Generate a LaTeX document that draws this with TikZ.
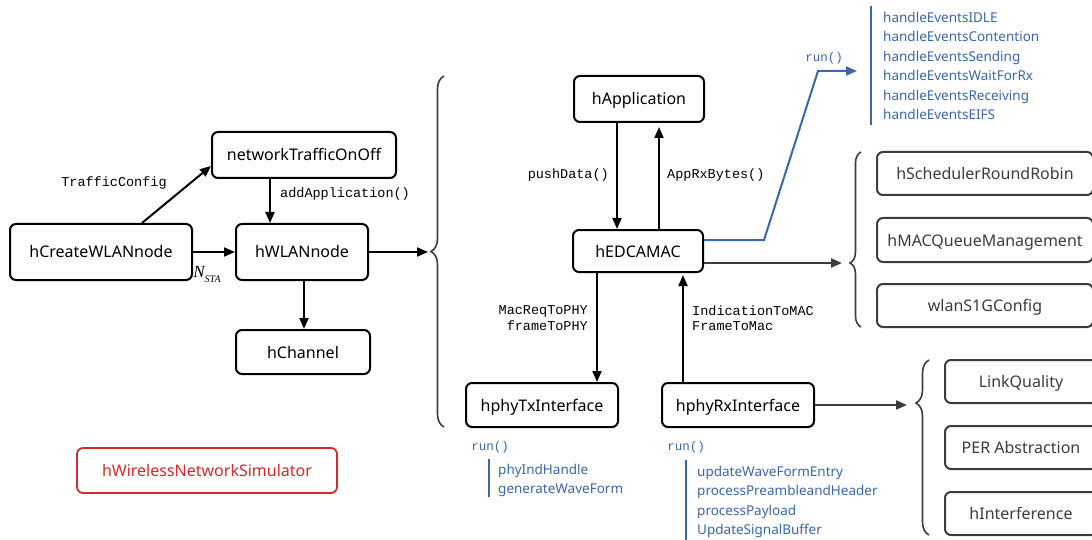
\documentclass[tikz,border=0pt]{standalone}
\usepackage{fontspec}
\setmainfont{Noto Sans}
\newfontfamily\monof{Liberation Mono}
\newfontfamily\serf{Liberation Serif}
\usetikzlibrary{arrows.meta,decorations.pathreplacing}
\definecolor{myblue}{HTML}{3A67A5}
\definecolor{myred}{HTML}{D42A2A}
\definecolor{dgray}{HTML}{3C3C3C}
\tikzset{
  box/.style={draw, line width=2pt, rounded corners=6pt, font=\fontsize{16}{19}\selectfont, inner sep=0pt, text height=13pt, text depth=1pt},
  gbox/.style={box, draw=dgray, text=dgray},
  rbox/.style={box, draw=myred, text=myred, line width=1.8pt},
  arr/.style={line width=2pt, -{Triangle[length=11pt,width=9pt]}},
  garr/.style={arr, draw=dgray, fill=dgray},
  lbl/.style={font=\monof\fontsize{13.5}{15.5}\selectfont, inner sep=0pt},
  blbl/.style={font=\monof\fontsize{12.5}{14}\selectfont, text=myblue, inner sep=0pt},
  blist/.style={font=\fontsize{13.5}{19.5}\selectfont, text=myblue, align=left, anchor=north west, inner sep=0pt},
  bline/.style={draw=myblue, line width=2pt},
  brc/.style={draw=dgray, line width=1.6pt, decorate},
}
\begin{document}
\begin{tikzpicture}[x=1pt,y=-1pt]
\useasboundingbox (0,0) rectangle (1092,540);
\clip (0,0) rectangle (1092,540);

% left group
\node[box, minimum width=182pt, minimum height=56pt] (create) at (101,252) {hCreateWLANnode};
\node[box, minimum width=184pt, minimum height=46pt] (traffic) at (304,155) {networkTrafficOnOff};
\node[box, minimum width=132pt, minimum height=56pt] (wlan) at (302,252) {hWLANnode};
\node[box, minimum width=134pt, minimum height=44pt] (chan) at (303,352) {hChannel};
\node[rbox, minimum width=260pt, minimum height=45pt] (sim) at (207,470.5) {hWirelessNetworkSimulator};

\draw[arr] ([xshift=41pt]create.north) -- ([yshift=-11pt]traffic.west);
\node[lbl] (ltc) at (114,183) {TrafficConfig};
\draw[arr] (create.east) -- (wlan.west);
\node[inner sep=0pt, font=\serf\itshape\fontsize{17}{18}\selectfont] (lnsta) at (207,274) {N\raisebox{-5pt}{\fontsize{10}{11}\selectfont STA}};
\draw[arr] ([xshift=-34pt]traffic.south) -- ([xshift=-32pt]wlan.north);
\node[lbl, anchor=west] (lapp) at (280,194) {addApplication()};
\draw[arr] ([xshift=2pt]wlan.south) -- ([xshift=1pt]chan.north);

% big brace
\draw[brc, decoration={brace, amplitude=13pt}] (444,427) -- (444,76);
\coordinate (b1tip) at (428,252);
\draw[arr] (wlan.east) -- (b1tip);

% MAC group
\node[box, minimum width=130pt, minimum height=46pt] (app) at (639,99) {hApplication};
\node[box, minimum width=130pt, minimum height=42pt] (mac) at (638,251) {hEDCAMAC};
\node[box, minimum width=152pt, minimum height=44pt] (tx) at (542,405) {hphyTxInterface};
\node[box, minimum width=152pt, minimum height=44pt] (rx) at (738,405) {hphyRxInterface};

\draw[arr] ([xshift=-22pt]app.south) -- ([xshift=-21pt]mac.north);
\node[lbl, anchor=east] (lpush) at (609,175) {pushData()};
\draw[arr] ([xshift=21pt]mac.north) -- ([xshift=20pt,yshift=-4pt]app.south);
\node[lbl, anchor=west] (lrx) at (667,175) {AppRxBytes()};
\draw[arr] ([xshift=-41pt]mac.south) -- ([xshift=55pt]tx.north);
\node[lbl, anchor=east, align=right] (lmreq) at (588,318) {MacReqToPHY\\frameToPHY};
\draw[arr] ([xshift=-55pt]rx.north) -- ([xshift=45pt,yshift=-2pt]mac.south);
\node[lbl, anchor=west, align=left] (lind) at (692,318) {IndicationToMAC\\FrameToMac};

% blue run to handleEvents
\coordinate (bb1) at (764,240);
\coordinate (bb2) at (818,71);
\coordinate (runend) at (857,71);
\draw[myblue, line width=2pt, -{Triangle[length=11pt,width=9pt]}] ([yshift=11pt]mac.east) -- (bb1) -- (bb2) -- (runend);
\node[blbl] (lrun1) at (824,58) {run()};
\coordinate (hl1) at (871,6);
\coordinate (hl2) at (871,125);
\draw[bline] (hl1) -- (hl2);
\node[blist] (hlist) at (883,12) {handleEventsIDLE\\handleEventsContention\\handleEventsSending\\handleEventsWaitForRx\\handleEventsReceiving\\handleEventsEIFS};

% tx run
\node[blbl] (lrun2) at (490,447) {run()};
\coordinate (tl1) at (489,459);
\coordinate (tl2) at (489,497);
\draw[bline] (tl1) -- (tl2);
\node[blist] (tlist) at (498,464) {phyIndHandle\\generateWaveForm};

% rx run
\node[blbl] (lrun3) at (686,447) {run()};
\coordinate (rl1) at (686,460);
\coordinate (rl2) at (686,541);
\draw[bline] (rl1) -- (rl2);
\node[blist] (rlist) at (697,466) {updateWaveFormEntry\\processPreambleandHeader\\processPayload\\UpdateSignalBuffer};

% MAC sub-brace
\node[gbox, minimum width=216pt, minimum height=43pt] (sched) at (985,173.5) {hSchedulerRoundRobin};
\node[gbox, minimum width=216pt, minimum height=44pt] (queue) at (985,240) {hMACQueueManagement};
\node[gbox, minimum width=216pt, minimum height=43pt] (cfg) at (985,305.5) {wlanS1GConfig};
\draw[brc, decoration={brace, amplitude=11pt, aspect=0.366}] (861,327) -- (861,152);
\coordinate (b2tip) at (842,263);
\draw[garr] ([yshift=-12pt]mac.east) -- (b2tip);

% PHY sub-brace
\node[gbox, minimum width=152pt, minimum height=43pt] (lq) at (1021,381.5) {LinkQuality};
\node[gbox, minimum width=152pt, minimum height=43pt] (per) at (1021,447.5) {PER Abstraction};
\node[gbox, minimum width=152pt, minimum height=43pt] (intf) at (1021,513.5) {hInterference};
\draw[brc, decoration={brace, amplitude=13pt, aspect=0.754}] (929,535) -- (929,360);
\coordinate (b3tip) at (907,405);
\draw[garr] (rx.east) -- (b3tip);
\end{tikzpicture}
\end{document}
